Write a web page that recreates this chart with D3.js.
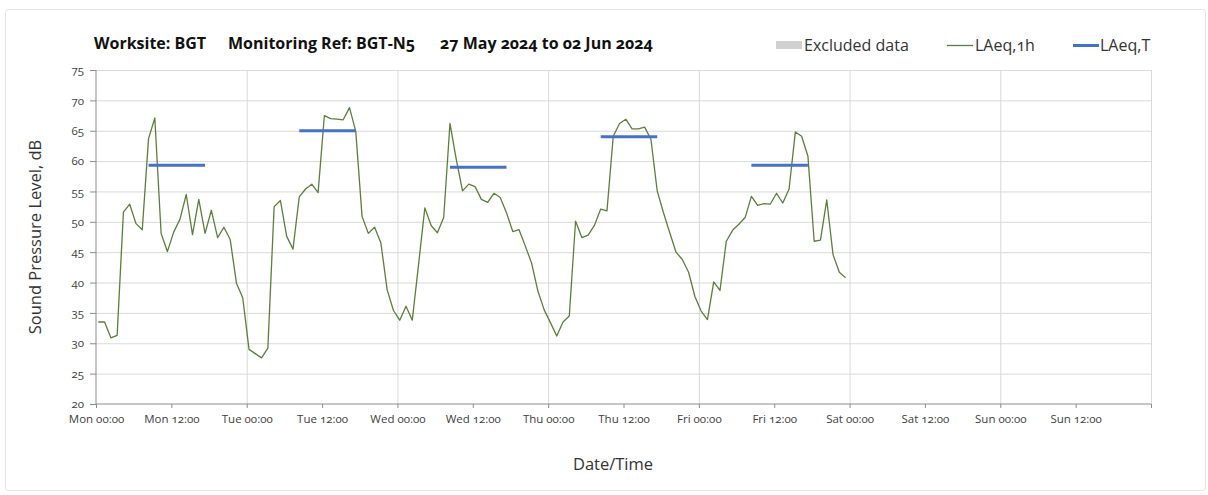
<!DOCTYPE html>
<html>
<head>
<meta charset="utf-8">
<script src="https://cdn.jsdelivr.net/npm/d3@7"></script>
<style>
  body { margin: 0; background: #fff; }
  svg text { font-family: "Open Sans", "Noto Sans", sans-serif; font-variant-numeric: oldstyle-nums; }
</style>
</head>
<body>
<div id="chart"></div>
<script>
// data: hourly LAeq,1h from Mon 27 May 2024 00:00
var startDate = "2024-05-27T00:00:00";
var endDate = "2024-06-03T00:00:00";
var laeq1h = [
  33.5, 33.5, 30.9, 31.3, 51.6, 52.9, 49.7, 48.7, 63.7, 67.1,
  48.1, 45.1, 48.3, 50.4, 54.5, 47.9, 53.7, 48.1, 51.9, 47.4,
  49.1, 47.1, 39.9, 37.5, 29.0, 28.3, 27.6, 29.2, 52.5, 53.5,
  47.6, 45.5, 54.1, 55.4, 56.2, 54.8, 67.5, 67.0, 66.9, 66.8,
  68.8, 64.9, 50.9, 48.1, 49.1, 46.5, 38.8, 35.4, 33.8, 36.1,
  33.8, 43.0, 52.3, 49.4, 48.2, 50.7, 66.2, 60.3, 55.1, 56.2,
  55.8, 53.7, 53.2, 54.7, 54.0, 51.5, 48.4, 48.7, 46.0, 43.2,
  38.6, 35.5, 33.4, 31.2, 33.5, 34.5, 50.1, 47.4, 47.8, 49.4,
  52.1, 51.8, 64.1, 66.2, 66.9, 65.3, 65.3, 65.6, 63.6, 55.1,
  51.5, 48.2, 45.0, 43.8, 41.7, 37.7, 35.3, 33.9, 40.1, 38.7,
  46.8, 48.6, 49.6, 50.7, 54.2, 52.7, 53.0, 52.9, 54.7, 53.1,
  55.4, 64.8, 64.1, 60.8, 46.8, 47.0, 53.6, 44.6, 41.7, 40.8
];
// LAeq,T for each daytime period (first and last hour of the period)
var periodStart = [8, 32, 56, 80, 104];
var periodEnd = [17, 41, 65, 89, 113];
var laeqT = [59.3, 65.0, 59.0, 64.0, 59.3];
var yTicks = [20, 25, 30, 35, 40, 45, 50, 55, 60, 65, 70, 75];
var sampleOffsetMin = 22;

var titleParts = ["Worksite: BGT", "Monitoring Ref: BGT-N5", "27 May 2024 to 02 Jun 2024"];
var legendLabels = ["Excluded data", "LAeq,1h", "LAeq,T"];

// set the dimensions and margins of the graph
var W = 1208, H = 495;
var margin = {top: 70, right: 57, bottom: 91, left: 96},
  width = W - margin.left - margin.right,
  height = H - margin.top - margin.bottom;

var svg = d3.select("#chart")
  .append("svg")
    .attr("width", W)
    .attr("height", H);

// outer frame
svg.append("rect")
  .attr("x", 5.5).attr("y", 9.5)
  .attr("width", 1200).attr("height", 481)
  .attr("rx", 3)
  .attr("fill", "none")
  .attr("stroke", "#e3e3e3");

var chart = svg.append("g")
  .attr("transform", "translate(" + margin.left + "," + margin.top + ")");

var t0 = new Date(startDate);
function hourDate(h) {
  return new Date(t0.getTime() + (h * 60 + sampleOffsetMin) * 60000);
}

// scales
var x = d3.scaleTime()
  .domain([new Date(startDate), new Date(endDate)])
  .range([0, width]);
var y = d3.scaleLinear()
  .domain([20, 75])
  .range([height, 0]);

// gridlines
chart.append("g")
  .attr("class", "ygrid")
  .call(d3.axisLeft(y).tickValues(yTicks.slice(1)).tickSize(-width).tickFormat(""))
  .call(function(g) { g.select(".domain").remove(); })
  .selectAll("line")
    .attr("stroke", "#d9d9d9");
chart.append("g")
  .attr("class", "xgrid")
  .call(d3.axisBottom(x).ticks(d3.timeDay.every(1)).tickSize(height).tickFormat(""))
  .call(function(g) { g.select(".domain").remove(); })
  .selectAll("line")
    .attr("stroke", function(d) { return +d === +x.domain()[0] ? "none" : "#d9d9d9"; });

// axes
var fmt = d3.timeFormat("%a %H:%M");
var xAxis = chart.append("g")
  .attr("transform", "translate(0," + height + ")")
  .call(d3.axisBottom(x)
    .ticks(d3.timeHour.every(12))
    .tickSize(4)
    .tickPadding(7)
    .tickFormat(function(d) { return +d === +x.domain()[1] ? "" : fmt(d); }));
var yAxis = chart.append("g")
  .call(d3.axisLeft(y).tickValues(yTicks).tickSize(6).tickPadding(6));

[xAxis, yAxis].forEach(function(a) {
  a.select(".domain").attr("stroke", "#8c8c8c");
  a.selectAll(".tick line").attr("stroke", "#8c8c8c");
  a.selectAll(".tick text")
    .attr("fill", "#404040")
    .style("font-size", "11.5px");
});
xAxis.select(".domain").attr("d", "M0,0H" + width);
yAxis.select(".domain").attr("d", "M0,0V" + height);

// LAeq,1h line
var line = d3.line()
  .x(function(d, i) { return x(hourDate(i)); })
  .y(function(d) { return y(d); });
chart.append("path")
  .datum(laeq1h)
  .attr("fill", "none")
  .attr("stroke", "#5b7f3b")
  .attr("stroke-width", 1.3)
  .attr("stroke-linejoin", "round")
  .attr("d", line);

// LAeq,T period lines
chart.selectAll(".laeqT")
  .data(laeqT)
  .enter()
  .append("line")
    .attr("class", "laeqT")
    .attr("x1", function(d, i) { return x(hourDate(periodStart[i])); })
    .attr("x2", function(d, i) { return x(hourDate(periodEnd[i])); })
    .attr("y1", function(d) { return y(d); })
    .attr("y2", function(d) { return y(d); })
    .attr("stroke", "#4472c4")
    .attr("stroke-width", 3);

// title
var titleX = [94, 228, 440];
svg.selectAll(".title")
  .data(titleParts)
  .enter()
  .append("text")
    .attr("class", "title")
    .attr("x", function(d, i) { return titleX[i]; })
    .attr("y", 49)
    .attr("fill", "#111")
    .style("font-size", "16px")
    .style("font-weight", "bold")
    .text(function(d) { return d; });

// legend
var legend = svg.append("g");
legend.append("rect")
  .attr("x", 776).attr("y", 41)
  .attr("width", 26).attr("height", 8)
  .attr("fill", "#d0d0d0");
legend.append("line")
  .attr("x1", 947).attr("x2", 973).attr("y1", 45.5).attr("y2", 45.5)
  .attr("stroke", "#5b7f3b").attr("stroke-width", 1.3);
legend.append("line")
  .attr("x1", 1073).attr("x2", 1099).attr("y1", 45.5).attr("y2", 45.5)
  .attr("stroke", "#4472c4").attr("stroke-width", 3);
var legendX = [804, 975, 1100];
legend.selectAll("text")
  .data(legendLabels)
  .enter()
  .append("text")
    .attr("x", function(d, i) { return legendX[i]; })
    .attr("y", 51)
    .attr("fill", "#333")
    .style("font-size", "16px")
    .text(function(d) { return d; });

// axis titles
svg.append("text")
  .attr("transform", "translate(41," + (margin.top + height / 2) + ") rotate(-90)")
  .attr("text-anchor", "middle")
  .attr("fill", "#333")
  .style("font-size", "16.5px")
  .text("Sound Pressure Level, dB");
svg.append("text")
  .attr("x", 613)
  .attr("y", 470)
  .attr("text-anchor", "middle")
  .attr("fill", "#333")
  .style("font-size", "16.5px")
  .text("Date/Time");
</script>
</body>
</html>
